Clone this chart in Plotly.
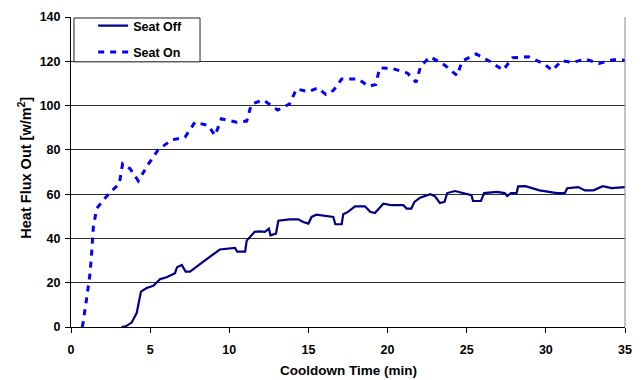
import plotly.graph_objects as go

# Seat Off (solid navy)
seat_off_t = [3.2, 3.45, 3.83, 4.15, 4.42, 4.78, 5.2, 5.62, 6.04, 6.57, 6.7, 7.0, 7.24, 7.52, 8.15,
              8.78, 9.4, 10.36, 10.5, 11.0, 11.1, 11.6, 11.9, 12.25, 12.5, 12.6, 12.95, 13.1, 13.8, 14.36,
              14.67, 15.0, 15.2, 15.5, 16.57, 16.7, 17.1, 17.2, 17.5, 17.94, 18.57, 18.9, 19.2, 19.73, 20.26,
              21.0, 21.2, 21.5, 21.7, 22.05, 22.7, 23.0, 23.3, 23.6, 23.77, 24.26, 24.8, 25.3, 25.4, 25.9,
              26.1, 26.9, 27.4, 27.56, 27.8, 28.15, 28.25, 28.7, 29.6, 30.7, 31.2, 31.35, 32.05, 32.47, 33.0,
              33.6, 34.15, 35.0]
seat_off = [0, 0.3, 2, 6.3, 16, 17.6, 18.6, 21.6, 22.5, 24.3, 27, 28, 25, 25, 28.4,
            31.7, 35, 35.7, 34, 34, 39, 43, 43.2, 43, 44.4, 41.4, 42.2, 48, 48.6, 48.6,
            47.4, 46.7, 49.7, 50.7, 49.7, 46.4, 46.4, 50.9, 52, 54.5, 54.5, 52, 51.5, 55.7, 55,
            55, 53.5, 53.5, 56.5, 58.4, 60, 59, 56, 56.5, 60.5, 61.4, 60.5, 59.5, 56.9, 56.9,
            60.5, 61, 60.5, 59.2, 60.5, 60.5, 63.5, 63.6, 61.7, 60.5, 60.5, 62.7, 63.2, 61.7, 61.7,
            63.6, 62.7, 63.2]

# Seat On (dashed blue)
seat_on_t = [0.7, 0.74, 0.99, 1.2, 1.3, 1.41, 1.62, 2.36, 3.05, 3.26, 3.73, 4.25, 4.9, 5.5, 6.36, 7.2,
             7.83, 8.67, 9.1, 9.5, 10.47, 11.1, 11.4, 12.15, 13.06, 13.8, 14.25, 15.0, 15.6, 16.1, 16.57,
             17.1, 18.15, 18.8, 19.25, 19.5, 20.26, 21.25, 21.8, 22.1, 22.7, 23.6, 24.4, 24.7, 25.6, 26.5,
             27.3, 27.9, 28.9, 29.9, 30.4, 31.0, 31.7, 32.5, 33.35, 34.26, 35.0]
seat_on = [0, 0.9, 13, 24, 33, 45, 53.5, 60, 64.7, 73.7, 71.5, 66, 73.7, 80, 84.5, 85.7,
           92.5, 91, 86.5, 94, 92.5, 93, 100.7, 102.5, 98, 100.7, 107.5, 106.3, 108, 105, 106.8,
           112, 112, 108.7, 109.5, 117, 116.8, 114.7, 110.5, 118, 122, 118.3, 113.5, 120, 123.3, 119.8,
           116, 121.6, 122, 118.8, 115.8, 120.3, 119.5, 121, 119, 120.7, 120.5]

x_ticks = [0, 5, 10, 15, 20, 25, 30, 35]
y_ticks = [0, 20, 40, 60, 80, 100, 120, 140]
x_title = "Cooldown Time (min)"
y_title = "Heat Flux Out [w/m<sup>2</sup>]"

FONT = "Liberation Sans, Arial, sans-serif"

fig = go.Figure()
fig.add_trace(go.Scatter(x=seat_off_t, y=seat_off, mode="lines", name="Seat Off",
                         line=dict(color="#000080", width=2.2), legendgroup="a"))
fig.add_trace(go.Scatter(x=seat_on_t, y=seat_on, mode="lines", name="Seat On",
                         line=dict(color="#0000FF", width=3, dash="6px,6px"), legendgroup="b"))

fig.update_layout(
    width=642, height=380,
    margin=dict(l=71, r=17, t=16, b=53),
    paper_bgcolor="white", plot_bgcolor="white",
    font=dict(family=FONT, size=12.5, color="black", weight="bold"),
    showlegend=True,
    legend=dict(x=0.04, y=1.016, xanchor="left", yanchor="top",
                bgcolor="rgba(0,0,0,0)", borderwidth=0,
                font=dict(family=FONT, size=12.5, color="black", weight="bold"),
                tracegroupgap=7),
    xaxis=dict(range=[0, 35], tickvals=x_ticks, ticks="outside", ticklen=5, tickcolor="black",
               showline=True, linecolor="black", linewidth=1, showgrid=False, zeroline=False,
               ticklabelstandoff=6, automargin=False,
               tickfont=dict(family=FONT, size=12.5, weight="bold")),
    yaxis=dict(range=[0, 140], tickvals=y_ticks, ticks="outside", ticklen=5, tickcolor="black",
               showline=True, linecolor="black", linewidth=1, showgrid=True, gridcolor="#303030",
               gridwidth=1, zeroline=False, ticklabelstandoff=2, automargin=False,
               tickfont=dict(family=FONT, size=12.5, weight="bold")),
)
# axis titles
fig.add_annotation(text=x_title, xref="paper", yref="paper", x=0.5, y=-0.141,
                   xanchor="center", yanchor="middle", showarrow=False,
                   font=dict(family=FONT, size=13.5, weight="bold", color="black"))
fig.add_annotation(text=y_title, xref="paper", yref="paper", x=-0.083, y=0.514,
                   xanchor="center", yanchor="middle", showarrow=False, textangle=-90,
                   font=dict(family=FONT, size=14.5, weight="bold", color="black"))
# right plot border
fig.add_shape(type="line", xref="paper", yref="paper", x0=1, x1=1, y0=0, y1=1,
              line=dict(color="#888888", width=1))
# legend box
fig.add_shape(type="rect", xref="paper", yref="paper", x0=0.0054, x1=0.2329, y0=0.8553, y1=0.9968,
              line=dict(color="#222222", width=1), fillcolor="white", layer="above")

fig.write_html("out.html")
